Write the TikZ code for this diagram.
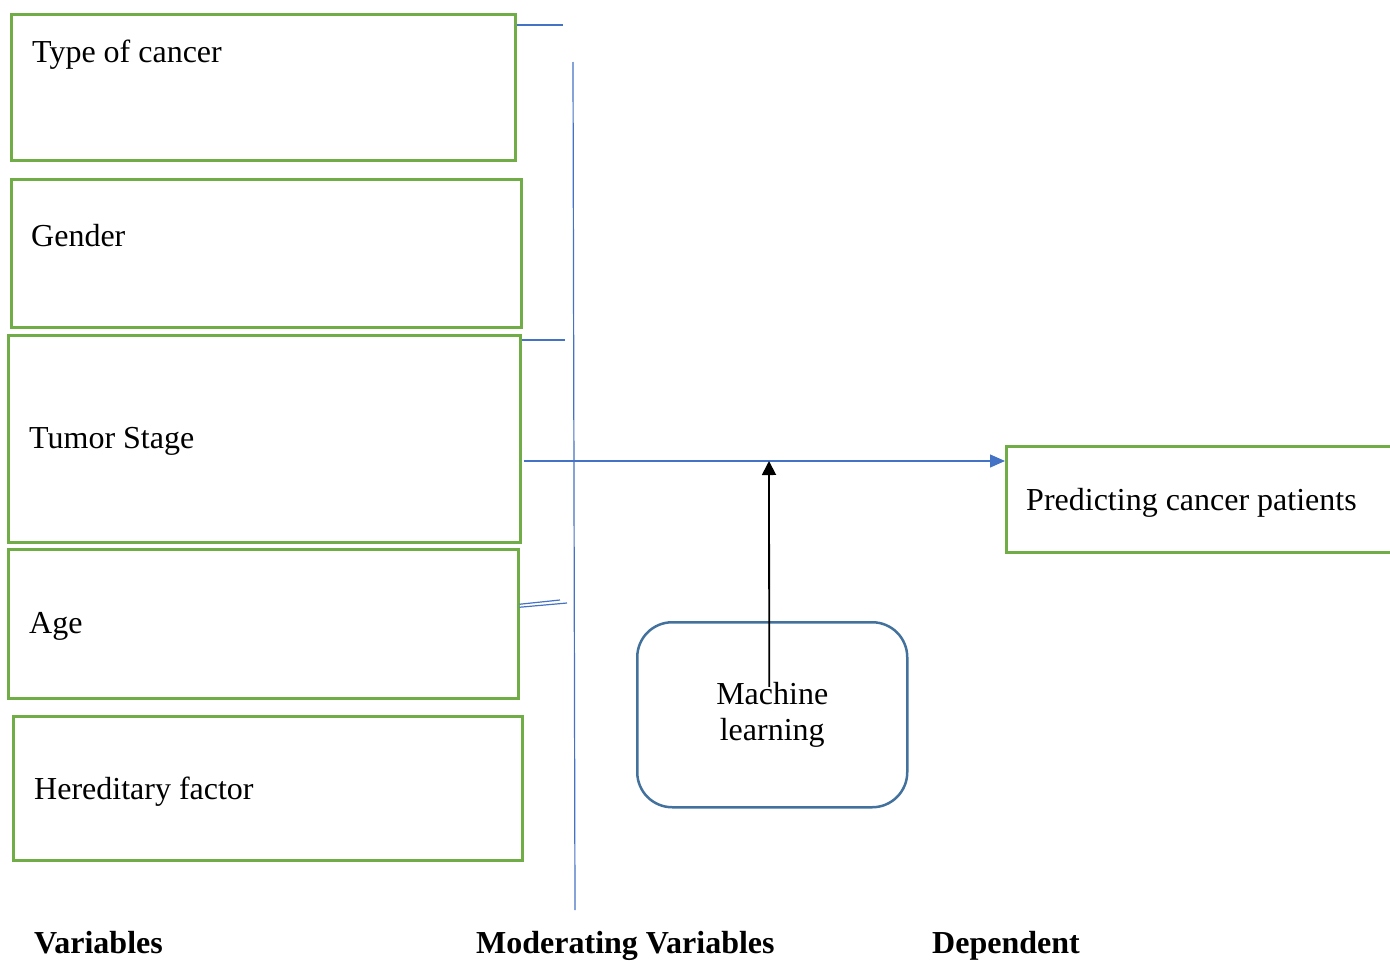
\documentclass[tikz,border=0pt]{standalone}
\usepackage{fontspec}
\setmainfont{Liberation Serif}
\usepackage{xcolor}
\usepackage{tikz}
\usetikzlibrary{arrows.meta}

\definecolor{boxgreen}{HTML}{70AD47}
\definecolor{lineblue}{HTML}{4472C4}
\definecolor{mlblue}{HTML}{41719C}

\begin{document}
\begin{tikzpicture}[x=1pt, y=-1pt,
    varbox/.style={draw=boxgreen, line width=2.5pt, anchor=north west, inner sep=0pt},
    txt/.style={anchor=base west, inner sep=0pt, font=\fontsize{32}{36}\selectfont},
    head/.style={txt, font=\fontsize{32}{36}\selectfont\bfseries},
    link/.style={draw=lineblue, line width=1.2pt},
    linkarrow/.style={link, -{Triangle[length=15pt, width=13pt]}}]
\useasboundingbox (0, 0) rectangle (1390, 961);
% variable boxes
\node[varbox, minimum width=504, minimum height=146] (cancer) at (10, 13)  {};
\node[varbox, minimum width=510, minimum height=148] (gender) at (10, 178) {};
\node[varbox, minimum width=512, minimum height=207] (tumor)  at (7, 334)  {};
\node[varbox, minimum width=510, minimum height=149] (age)    at (7, 548)  {};
\node[varbox, minimum width=509, minimum height=144] (hered)  at (12, 715) {};
\node[varbox, minimum width=400, minimum height=106] (predict) at (1005, 445) {};
\node[txt] (cancer-t)  at (32, 62)   {Type of cancer};
\node[txt] (gender-t)  at (31, 246)  {Gender};
\node[txt] (tumor-t)   at (29, 448)  {Tumor Stage};
\node[txt] (age-t)     at (29, 633)  {Age};
\node[txt] (hered-t)   at (34, 799)  {Hereditary factor};
\node[txt] (predict-t) at (1026, 510) {Predicting cancer patients};
% moderating
\node[draw=mlblue, line width=2.5pt, rounded corners=35pt, anchor=north west,
      minimum width=270, minimum height=185, align=center,
      font=\fontsize{32}{36}\selectfont] (ml) at (636, 621) {Machine\\learning};
% connectors
\coordinate (bar-top) at (573, 62);
\coordinate (bar-bot) at (575, 910);
\coordinate (stub-a)  at (563, 25);
\coordinate (stub-b)  at (565, 340);
\coordinate (stub-c)  at (560, 600);
\coordinate (stub-d)  at (567, 603);
\coordinate (meet)    at (769, 461);
\draw[link] (bar-top) -- (bar-bot);
\draw[link] (cancer.east |- stub-a) -- (stub-a);
\draw[link] (tumor.east |- stub-b) -- (stub-b);
\draw[link] ([yshift=19.5pt]age.east) -- (stub-c);
\draw[link] ([yshift=16.5pt]age.east) -- (stub-d);
\draw[linkarrow] ([xshift=2pt]tumor.east |- meet) -- (predict.west |- meet);
\draw[line width=1.8pt, -{Triangle[length=14pt, width=14pt]}] ([xshift=-3pt, yshift=28pt]ml.center) -- (meet);
% column headings
\node[head] (h-var) at (34, 953)  {Variables};
\node[head] (h-mod) at (476, 953) {Moderating Variables};
\node[head] (h-dep) at (932, 953) {Dependent};
\end{tikzpicture}
\end{document}
